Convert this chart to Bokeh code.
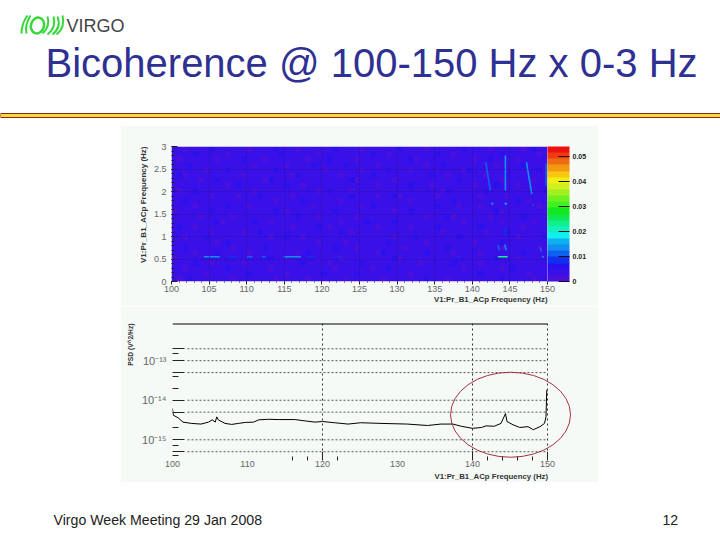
import numpy as np

from bokeh.embed import file_html
from bokeh.layouts import column, row
from bokeh.models import (ColorBar, ColumnDataSource, CustomJSTickFormatter, FixedTicker, Label,
                          LinearColorMapper, Range1d, Spacer, Title)
from bokeh.plotting import figure
from bokeh.resources import INLINE

PANEL = "#f5faf7"
TITLE_BLUE = "#2e3192"

title_text = "Bicoherence @ 100-150 Hz x 0-3 Hz"
footer_left = "Virgo Week Meeting 29 Jan 2008"
footer_right = "12"
x_label = "V1:Pr_B1_ACp Frequency (Hz)"
psd_label = "PSD (V^2/Hz)"

# colour scale, bottom to top
palette = ["#4c10dc", "#3a10e8", "#2a10ec", "#1030f0", "#1060f0", "#1090f0", "#10b0f0", "#10f0f0",
           "#10f0c0", "#10f090", "#10e850", "#10e820", "#40f020", "#70f020", "#a0f020", "#d0f020",
           "#f0f010", "#f8c810", "#f09a10", "#f06a10", "#f03a10", "#ee1010"]
bar_ticks = [0, 0.01, 0.02, 0.03, 0.04, 0.05]

# mottled background of the bicoherence map, top row first
# 0 purple, 1 dark blue, 2 blue
noise_rows = [
    "1101111211 1111011112 1110111111 2111101111 1121111011 1111211110 1111101211",
    "1111211111 0111111111 2111111011 1111111211 0111111112 1101111111 1211111101",
    "1011111101 1112111011 1111101112 1111011111 1111201111 1111110112 1111011111",
    "1112111111 1111101111 1011112111 1121111101 1111111011 2111111111 0111121111",
    "1111110111 2111111112 1111111101 1111101111 2111011111 1111021111 1111111120",
    "1201111111 1110111111 1102111111 1011111211 1111111121 1011111101 1121111111",
    "1111101121 1111111021 1111111111 1112011111 1011111111 1112111111 1011111011",
    "1111111111 0121111111 1211011111 1111111101 1111211101 1111110111 2111011111",
    "1011211111 1111101111 1111111012 1110111111 1111111111 0211111121 1111111112",
    "1111111011 1101112111 1101111111 1112111101 1201111110 1111111011 1101111111",
    "1121111111 1111111110 1111211111 1011111111 1111011111 1121111111 1111210111",
    "1111011111 2111011111 1111110111 1111101211 1111111112 1110111011 1111111101",
    "0111111211 1111111112 1011111111 2111111111 1011211111 1111111111 2011111111",
    "1111101111 1011111111 1112111011 1111011111 1111111011 1201111110 1111121111",
    "1111111120 1111121101 1111111111 1011112111 1211111111 1111011111 1011111011",
    "1211011111 1111111111 1101111210 1111111101 1111011112 1111111211 1111101111",
    "1111111011 1110112111 1111111111 1210111111 1111111111 0111111101 1121111111",
    "1101112111 1111111101 1211011111 1111111111 1011121111 1112111111 1111011112",
    "1111111101 2111111111 1111111011 1101111111 2111111011 1111110111 1211111111",
    "1121111111 1011111211 1111111111 2111011111 1110111111 1211111111 1011111101",
    "1111011121 1111011111 1110121111 1111111102 1111111211 1101111011 1111121111",
    "0111111111 1111111121 1011111111 1011111111 1201111111 1111111111 2111011111",
    "1111211011 1110111111 1111211110 1111121111 1111110111 1121111011 1111111111",
    "1101111111 2111111101 1111111111 0111111011 2111111111 1111011111 1012111111",
    "1111110111 1111211111 1011111121 1111211111 1111011111 1111111211 1111110111",
    "1012111111 1011111110 1111101111 1101111110 1111111211 1011111111 1211111011",
]
noise_levels = {"0": 0.0006, "1": 0.0035, "2": 0.006}

# brighter traces on the map: start/end in Hz on both axes, and level
trace_x0 = [141.8, 144.4, 147.2, 149.8, 142.5, 144.3, 148.0, 144.4, 143.4, 144.3, 149.0, 149.3,
            143.4, 104.3, 107.5, 110.0, 112.0, 114.9, 118.0, 122.0, 138.0]
trace_x1 = [142.4, 144.4, 147.9, 149.8, 142.8, 144.6, 148.2, 144.4, 143.6, 144.5, 149.2, 149.5,
            144.7, 106.4, 108.8, 110.8, 112.5, 117.2, 119.0, 122.5, 138.5]
trace_y0 = [2.65, 2.80, 2.65, 2.62, 1.73, 1.73, 1.70, 1.20, 0.82, 0.82, 0.76, 0.56,
            0.55, 0.55, 0.55, 0.55, 0.55, 0.55, 0.55, 0.55, 0.55]
trace_y1 = [2.02, 2.02, 1.95, 2.13, 1.73, 1.73, 1.70, 0.98, 0.70, 0.70, 0.66, 0.54,
            0.55, 0.55, 0.55, 0.55, 0.55, 0.55, 0.55, 0.55, 0.55]
trace_level = [0.0115, 0.0135, 0.014, 0.012, 0.014, 0.015, 0.011, 0.0095, 0.012, 0.013, 0.012, 0.013,
               0.024, 0.014, 0.009, 0.01, 0.01, 0.014, 0.009, 0.009, 0.009]

# PSD curve
psd_freq = [100.0, 100.1, 100.75, 101.4, 102.5, 103.8, 104.8, 105.3, 105.7, 105.9, 106.1, 107.0,
            107.9, 108.8, 109.7, 110.8, 111.5, 112.8, 114.1, 116.3, 117.7, 119.0, 120.0, 121.6,
            123.4, 125.1, 127.8, 131.3, 134.0, 135.8, 137.4, 138.5, 140.0, 141.2, 141.8, 142.9,
            143.8, 144.4, 144.6, 145.4, 146.3, 147.4, 148.1, 149.0, 149.6, 149.8, 149.9, 150.0]
psd_vals = [6.2e-15, 4.2e-15, 3.6e-15, 2.8e-15, 2.6e-15, 2.5e-15, 2.8e-15, 3.2e-15, 2.8e-15, 3.8e-15,
            3.2e-15, 2.6e-15, 2.45e-15, 2.6e-15, 2.75e-15, 2.8e-15, 3.2e-15, 3.3e-15, 3.25e-15, 3.25e-15,
            3.0e-15, 2.8e-15, 2.9e-15, 2.7e-15, 2.5e-15, 2.7e-15, 2.6e-15, 2.5e-15, 2.3e-15, 2.5e-15,
            2.5e-15, 2.2e-15, 1.95e-15, 2.05e-15, 2.25e-15, 2.2e-15, 2.6e-15, 4.6e-15, 2.9e-15, 2.4e-15,
            2.05e-15, 2.15e-15, 1.8e-15, 2.15e-15, 2.6e-15, 3.8e-15, 1.8e-14, 1.8e-14]

psd_x_ticks = [100, 110, 120, 130, 140, 150]
psd_x_marks = [120, 140, 150]
psd_x_minor = [116, 118, 122, 142, 144, 146, 148]
psd_y_long = [2e-13, 1e-13, 5e-14, 1e-14, 5e-15, 1e-15, 5e-16]
psd_y_short = [1.5e-13, 4e-14, 2e-14, 2e-15, 7e-16, 4e-16]
psd_y_powers = {"1e-13": "10\u207b\u00b9\u00b3", "1e-14": "10\u207b\u00b9\u2074", "1e-15": "10\u207b\u00b9\u2075"}


def small_title(text, size, **kw):
    return Title(text=text, text_font="Liberation Sans", text_font_size=size, text_font_style="bold",
                 text_color="#333333", **kw)


# ---- header
header = figure(width=720, height=125, x_range=(0, 720), y_range=(125, 0), output_backend="svg",
                toolbar_location=None, min_border=0, outline_line_color=None)
header.axis.visible = False
header.grid.visible = False
header.quad(left=[0], right=[720], top=[113], bottom=[117], fill_color="#f8d840", line_color="#8a2a10", line_width=1)
# logo
header.quadratic(x0=[27, 30, 47, 53, 57, 62], y0=[15, 15, 16, 16, 16, 15],
                 x1=[21, 26, 42, 47, 52, 56], y1=[33, 33, 33, 34, 34, 34],
                 cx=[21, 24, 50, 56, 61, 65], cy=[23, 25, 26, 27, 27, 27],
                 line_color="#35d838", line_width=2)
header.ellipse(x=[37], y=[25], width=[13], height=[16], angle=[-0.3], fill_color=None,
               line_color="#35d838", line_width=2.5)
header.add_layout(Label(x=66, y=25, text="VIRGO", text_font="Liberation Sans", text_font_size="18px",
                        text_color="#444444", text_baseline="middle"))
header.add_layout(Label(x=45, y=62, text=title_text, text_font="Liberation Sans", text_font_size="40px",
                        text_color=TITLE_BLUE, text_baseline="middle"))

# ---- bicoherence map
mapper = LinearColorMapper(palette=palette, low=0, high=0.054)
noise = np.array([[noise_levels[c] for c in r.replace(" ", "")] for r in noise_rows[::-1]])

heat = figure(width=478, height=181, x_range=Range1d(100, 150), y_range=Range1d(0, 3), output_backend="svg",
              toolbar_location=None, min_border_left=51, min_border_right=51, min_border_top=21, min_border_bottom=25,
              background_fill_color=PANEL, border_fill_color=PANEL, outline_line_color=None)
heat.image(image=[noise], x=100, y=0, dw=50, dh=3, color_mapper=mapper)
trace_src = ColumnDataSource(dict(x0=trace_x0, x1=trace_x1, y0=trace_y0, y1=trace_y1, v=trace_level))
heat.segment("x0", "y0", "x1", "y1", source=trace_src, line_width=1.6,
             line_color={"field": "v", "transform": mapper})

heat.xaxis.ticker = FixedTicker(ticks=list(range(100, 151, 5)), minor_ticks=list(range(100, 151)))
heat.yaxis.ticker = FixedTicker(ticks=[0, 0.5, 1, 1.5, 2, 2.5, 3], minor_ticks=[i / 10 for i in range(31)])
for ax in [heat.xaxis[0], heat.yaxis[0]]:
    ax.axis_line_color = None
    ax.major_label_text_font = "Liberation Sans"
    ax.major_label_text_font_size = "9px"
    ax.major_label_text_color = "#666666"
    ax.major_tick_line_color = "#222222"
    ax.minor_tick_line_color = "#222222"
heat.xaxis.major_tick_in = 0
heat.xaxis.major_tick_out = 3
heat.xaxis.minor_tick_in = 0
heat.xaxis.minor_tick_out = 1
heat.xaxis.major_label_standoff = 1
heat.yaxis.major_tick_in = 6
heat.yaxis.major_tick_out = 0
heat.yaxis.minor_tick_in = 3
heat.yaxis.minor_tick_out = 0
heat.yaxis.major_label_standoff = 5
heat.grid.grid_line_color = "#2a1090"
heat.grid.grid_line_dash = [2, 2]
heat.grid.grid_line_alpha = 0.7
heat.grid.level = "overlay"

bar = ColorBar(color_mapper=mapper, width=22, padding=0, margin=2, ticker=FixedTicker(ticks=bar_ticks),
               major_tick_line_color="#111111", major_tick_in=11, minor_tick_line_color=None,
               major_label_text_font="Liberation Sans", major_label_text_font_size="7px",
               major_label_text_font_style="bold", major_label_text_color="#222222", label_standoff=3,
               bar_line_color=None, border_line_color=None, background_fill_color=None)
heat.add_layout(bar, "right")
heat.add_layout(small_title(x_label, "7.8px", align="right", standoff=-3), "below")
heat.add_layout(small_title(x_label, "8px", align="right", standoff=6), "left")

# ---- PSD
psd = figure(width=478, height=176, x_range=Range1d(100, 153.6), y_range=Range1d(3e-16, 8.7e-13), y_axis_type="log",
             output_backend="svg", toolbar_location=None, min_border_left=52, min_border_right=24,
             min_border_top=17, min_border_bottom=22,
             background_fill_color=PANEL, border_fill_color=PANEL, outline_line_color=None)
psd.xaxis.ticker = FixedTicker(ticks=psd_x_ticks, minor_ticks=psd_x_minor)
psd.yaxis.ticker = FixedTicker(ticks=psd_y_long, minor_ticks=psd_y_short)
psd.yaxis.formatter = CustomJSTickFormatter(args=dict(labels=psd_y_powers),
                                            code="return labels[tick.toExponential().replace('.0','')] || ''")
for ax in [psd.xaxis[0], psd.yaxis[0]]:
    ax.axis_line_color = None
    ax.major_label_text_font = "Liberation Sans"
    ax.major_label_text_font_size = "9px"
    ax.major_label_text_color = "#666666"
    ax.minor_tick_line_color = "#222222"
psd.xaxis.major_tick_line_color = None
psd.xaxis.major_tick_in = 0
psd.xaxis.major_tick_out = 0
psd.xaxis.major_label_standoff = 0
psd.xaxis.minor_tick_in = 4
psd.xaxis.minor_tick_out = 0
psd.yaxis.major_tick_line_color = "#222222"
psd.yaxis.major_tick_in = 12
psd.yaxis.major_tick_out = 0
psd.yaxis.minor_tick_in = 6
psd.yaxis.minor_tick_out = 0
psd.yaxis.major_label_standoff = 6
psd.yaxis.major_label_text_font_size = "11px"

psd.xgrid.ticker = FixedTicker(ticks=psd_x_marks)
psd.ygrid.visible = False
psd.xgrid.grid_line_color = "#333333"
psd.xgrid.grid_line_dash = [2, 3]

psd.segment(x0=[102] * len(psd_y_long), y0=psd_y_long, x1=[150] * len(psd_y_long), y1=psd_y_long,
            line_color="#555555", line_width=1, line_dash="2 2")
psd.segment(x0=[100], y0=[8.7e-13], x1=[150], y1=[8.7e-13], line_color="black", line_width=2)
psd.segment(x0=psd_x_marks, y0=[3e-16] * 3, x1=psd_x_marks, y1=[5e-16] * 3, line_color="#222222", line_width=1)
psd.line(psd_freq, psd_vals, line_color="black", line_width=1)
psd.ellipse(x=[145.07], y=[4.3e-15], width=[120], height=[85], width_units="screen", height_units="screen",
            fill_color=None, line_color="#a83040", line_width=1)
psd.add_layout(small_title(x_label, "7.8px", align="left", standoff=0, offset=262), "below")
psd.add_layout(small_title(psd_label, "6.7px", align="right", standoff=9), "left")

# ---- footer
footer = figure(width=720, height=58, x_range=(0, 720), y_range=(540, 482), output_backend="svg",
                toolbar_location=None, min_border=0, outline_line_color=None)
footer.axis.visible = False
footer.grid.visible = False
footer.add_layout(Label(x=53, y=519, text=footer_left, text_font="Liberation Sans", text_font_size="14.15px",
                        text_color="#222222", text_baseline="middle"))
footer.add_layout(Label(x=662, y=519, text=footer_right, text_font="Liberation Sans", text_font_size="14.15px",
                        text_color="#222222", text_baseline="middle"))

p = column(header, row(Spacer(width=120), heat), row(Spacer(width=120), psd), footer, spacing=0)
open("out.html", "w").write(file_html(p, INLINE))
